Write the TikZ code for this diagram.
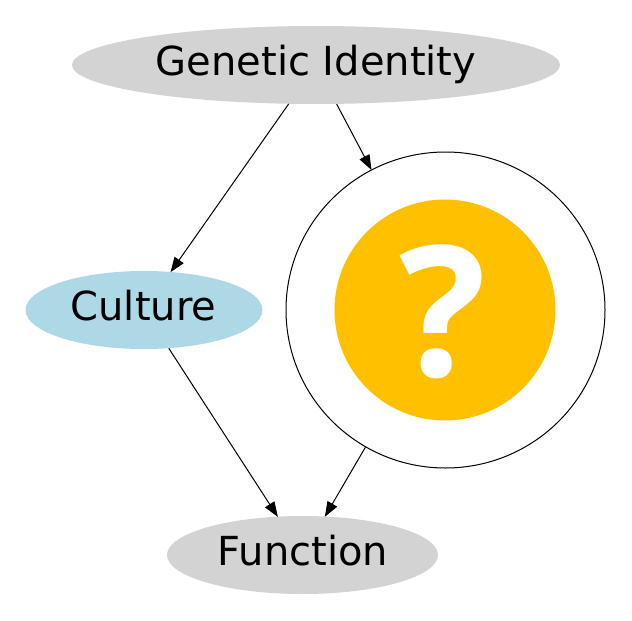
\documentclass[tikz,border=0pt]{standalone}
\usepackage{fontspec}
\setmainfont{DejaVu Sans}
\usetikzlibrary{shapes.geometric,arrows.meta}
\newfontfamily\qfont{Open Sans Bold}
\definecolor{nodegray}{HTML}{D3D3D3}
\definecolor{nodeblue}{HTML}{ADD8E6}
\definecolor{qorange}{HTML}{FFC000}
\tikzset{
  x=1pt,y=-1pt,
  oval/.style={ellipse,draw=none,inner sep=0pt,minimum width=#1,minimum height=78pt},
  label/.style={inner sep=0pt,font=\fontsize{40}{48}\selectfont},
  link/.style={draw=black,line width=1pt,-{Triangle[length=15pt,width=11pt]},shorten >=-0.5pt},
}
\begin{document}
\begin{tikzpicture}
\useasboundingbox (0,0) rectangle (632,621);
\fill[white] (0,0) rectangle (632,621);
\node[oval=488pt,fill=nodegray] (g) at (316,65) {};
\node[oval=237pt,fill=nodeblue] (c) at (144,310) {};
\node[oval=271pt,fill=nodegray] (f) at (302.5,555) {};
\node[label] (gt) at (316,64) {Genetic Identity};
\node[label] (ct) at (143.5,306) {Culture};
\node[label] (ft) at (303,551) {Function};
\node[ellipse,draw=black,line width=1pt,inner sep=0pt,minimum width=319pt,minimum height=316pt] (q) at (445.5,310) {};
\node[circle,fill=qorange,inner sep=0pt,minimum size=221pt] (qi) at (445,310) {};
\node[text=white,inner sep=0pt,font={\fontsize{182}{182}\selectfont\qfont}] (qm) at (443,312) {?};
\draw[link] (g) -- (c);
\draw[link] (g) -- (q);
\draw[link] (c) -- (f);
\draw[link] (q) -- (f);
\end{tikzpicture}
\end{document}
